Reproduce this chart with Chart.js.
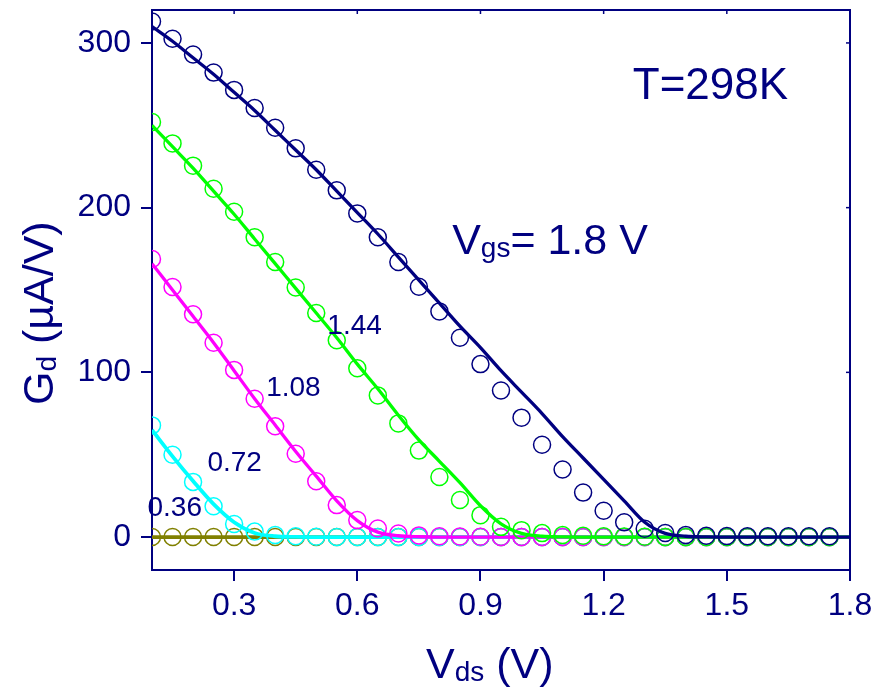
<!DOCTYPE html>
<html><head><meta charset="utf-8">
<script src="https://cdn.jsdelivr.net/npm/chart.js@4.4.1/dist/chart.umd.min.js"></script>
<style>html,body{margin:0;padding:0;background:#fff}canvas{display:block}</style>
</head><body>
<canvas id="c" width="884" height="688"></canvas>
<script>
// ---- data ----
const vdsMarkers = [0.10,0.15,0.20,0.25,0.30,0.35,0.40,0.45,0.50,0.55,0.60,0.65,0.70,0.75,0.80,0.85,0.90,0.95,1.00,1.05,1.10,1.15,1.20,1.25,1.30,1.35,1.40,1.45,1.50,1.55,1.60,1.65,1.70,1.75];
const gdMeas180 = [313,302.5,293,282,271.5,260.5,248.5,236,223,210.5,196.5,182,167,152,137,121,105,89,72.5,56,41,27,16,9,5,2.5,1.2,0.8,0.6,0.5,0.5,0.5,0.5,0.5];
const gdMeas144 = [252,239,225.5,211.5,197.5,182,167,151.5,136,119.5,102.5,86,69,52.5,36.5,22.5,13.3,6.2,4.2,2.4,1.2,0.8,0.5,0.3,0.2,0,0,0,0,0,0,0,0,0];
const gdMeas108 = [168.8,151.8,135.3,118,101.5,84,67.3,50.6,33.9,19.4,10.3,5.2,2.2,1,0.5,0.3,0.2,0,0,0,0,0,0,0,0,0,0,0,0,0,0,0,0,0];
const gdMeas072 = [67.8,50,33.5,18.7,7.9,3.3,1.2,0.5,0.2,0,0,0,0,0,0,0,0,0,0,0,0,0,0,0,0,0,0,0,0,0,0,0,0,0];
const gdMeas036 = [0,0,0,0,0,0,0,0,0,0,0,0,0,0,0,0,0,0,0,0,0,0,0,0,0,0,0,0,0,0,0,0,0,0];

const vdsFit = [0.10,0.15,0.20,0.25,0.30,0.35,0.40,0.45,0.50,0.55,0.60,0.65,0.70,0.75,0.80,0.85,0.90,0.95,1.00,1.05,1.10,1.15,1.20,1.25,1.30,1.35,1.40,1.45,1.50,1.55,1.60,1.65,1.70,1.75,1.80];
const gdFit180 = [310,301,291,281,270,259,247,235,223,210,197,184,170,156,142,128,115,101,88,75,61,48,35,22,9,2.2,0.5,0.1,0,0,0,0,0,0,0];
const gdFit144 = [250,237,224,210,196,181,166,151,136,121,105,90,74,59,46,33,19,8,2.2,0.5,0.1,0,0,0,0,0,0,0,0,0,0,0,0,0,0];
const gdFit108 = [166,150,134,118,101,84,68,52,37,22,10,3,0.8,0.2,0,0,0,0,0,0,0,0,0,0,0,0,0,0,0,0,0,0,0,0,0];
const gdFit072 = [65,49,34,20,9,2.5,0.5,0.1,0,0,0,0,0,0,0,0,0,0,0,0,0,0,0,0,0,0,0,0,0,0,0,0,0,0,0];
const gdFit036 = [0,0,0,0,0,0,0,0,0,0,0,0,0,0,0,0,0,0,0,0,0,0,0,0,0,0,0,0,0,0,0,0,0,0,0];

const xTickValues = [0.3,0.6,0.9,1.2,1.5,1.8];
const yTickValues = [0,100,200,300];
const vgsLabels = ['1.8','1.44','1.08','0.72','0.36'];

// ---- styling ----
const NAVY = '#000080';
const FONT = '"Liberation Sans", Arial, Helvetica, sans-serif';
const colors = ['#000080','#00ff00','#ff00ff','#00ffff','#808000'];
const measSets = [gdMeas180, gdMeas144, gdMeas108, gdMeas072, gdMeas036];
const fitSets = [gdFit180, gdFit144, gdFit108, gdFit072, gdFit036];

function pts(xs, ys){ return xs.map((x,i)=>({x:x, y:ys[i]})); }

const datasets = [];
for (let k=0;k<5;k++){
  datasets.push({
    label:'fit '+vgsLabels[k], data:pts(vdsFit, fitSets[k]), showLine:true,
    borderColor:colors[k], borderWidth:(k>=3?3.8:3.3), pointRadius:0, fill:false,
    cubicInterpolationMode:'monotone', clip:0, order:2*k
  });
  datasets.push({
    label:'meas '+vgsLabels[k], data:pts(vdsMarkers, measSets[k]), showLine:false,
    pointRadius:8.5, pointBorderWidth:1.5, pointBorderColor:colors[k],
    pointBackgroundColor:'rgba(0,0,0,0)', clip:0, order:2*k+1
  });
}

// annotation texts (positions in data coordinates)
const notes = [
  {parts:[{t:'T=298K',s:44}], vx:1.271, vy:266},
  {parts:[{t:'V',s:43},{t:'gs',s:28,dy:3},{t:'= 1.8 V',s:43}], vx:0.831, vy:171.6},
  {parts:[{t:vgsLabels[1],s:28}], vx:0.527, vy:123.4},
  {parts:[{t:vgsLabels[2],s:28}], vx:0.378, vy:85.9},
  {parts:[{t:vgsLabels[3],s:28}], vx:0.235, vy:40.1},
  {parts:[{t:vgsLabels[4],s:28}], vx:0.089, vy:12.9}
];

function drawParts(ctx, parts, x, y){
  let cx = x;
  parts.forEach(p=>{
    ctx.font = p.s+'px '+FONT;
    ctx.fillText(p.t, cx, y + (p.dy||0));
    cx += ctx.measureText(p.t).width;
  });
}

const deco = {
  id:'deco',
  afterDraw(chart){
    const ctx = chart.ctx, a = chart.chartArea, xs = chart.scales.x, ys = chart.scales.y;
    ctx.save();
    ctx.strokeStyle = NAVY; ctx.lineWidth = 2;
    ctx.beginPath();
    ctx.moveTo(a.left, a.top); ctx.lineTo(a.right, a.top); ctx.lineTo(a.right, a.bottom);
    ctx.stroke();
    ctx.lineWidth = 1.5;
    xTickValues.forEach(v=>{ const px = xs.getPixelForValue(v); ctx.beginPath(); ctx.moveTo(px,a.top); ctx.lineTo(px,a.top+4); ctx.stroke(); });
    yTickValues.forEach(v=>{ const py = ys.getPixelForValue(v); ctx.beginPath(); ctx.moveTo(a.right,py); ctx.lineTo(a.right-4,py); ctx.stroke(); });
    ctx.fillStyle = NAVY; ctx.textAlign = 'left'; ctx.textBaseline = 'alphabetic';
    notes.forEach(n=>{ drawParts(ctx, n.parts, xs.getPixelForValue(n.vx), ys.getPixelForValue(n.vy)); });
    // x axis title
    drawParts(ctx, [{t:'V',s:43},{t:'ds',s:28,dy:3},{t:' (V)',s:43}], 426, 678);
    // y axis title (rotated)
    ctx.save();
    ctx.translate(53, 405); ctx.rotate(-Math.PI/2);
    drawParts(ctx, [{t:'G',s:43},{t:'d',s:28,dy:3},{t:' (\u00b5A/V)',s:43}], 0, 0);
    ctx.restore();
    ctx.restore();
  }
};

new Chart(document.getElementById('c'), {
  type:'scatter',
  data:{datasets:datasets},
  options:{
    responsive:false, animation:false, events:[],
    layout:{padding:{left:0,right:34,top:8,bottom:0}},
    plugins:{legend:{display:false}, tooltip:{enabled:false}},
    scales:{
      x:{
        type:'linear', min:0.1, max:1.8,
        afterBuildTicks:(s)=>{ s.ticks = xTickValues.map(v=>({value:v})); },
        afterFit:(s)=>{ s.height = 118; s.paddingLeft = 0; s.paddingRight = 0; },
        ticks:{color:NAVY, font:{family:FONT, size:32}, padding:6, maxRotation:0,
               callback:(v)=>Number(v).toFixed(1)},
        grid:{drawOnChartArea:false, drawTicks:true, tickLength:11, color:NAVY, lineWidth:2, tickWidth:2},
        border:{color:NAVY, width:2}
      },
      y:{
        type:'linear', min:-20, max:320,
        afterBuildTicks:(s)=>{ s.ticks = yTickValues.map(v=>({value:v})); },
        afterFit:(s)=>{ s.width = 152; s.paddingTop = 0; s.paddingBottom = 0; },
        ticks:{color:NAVY, font:{family:FONT, size:32}, padding:10,
               callback:(v)=>String(Math.round(v))},
        grid:{drawOnChartArea:false, drawTicks:true, tickLength:11, color:NAVY, lineWidth:2, tickWidth:2},
        border:{color:NAVY, width:2}
      }
    }
  },
  plugins:[deco]
});
</script>
</body></html>
